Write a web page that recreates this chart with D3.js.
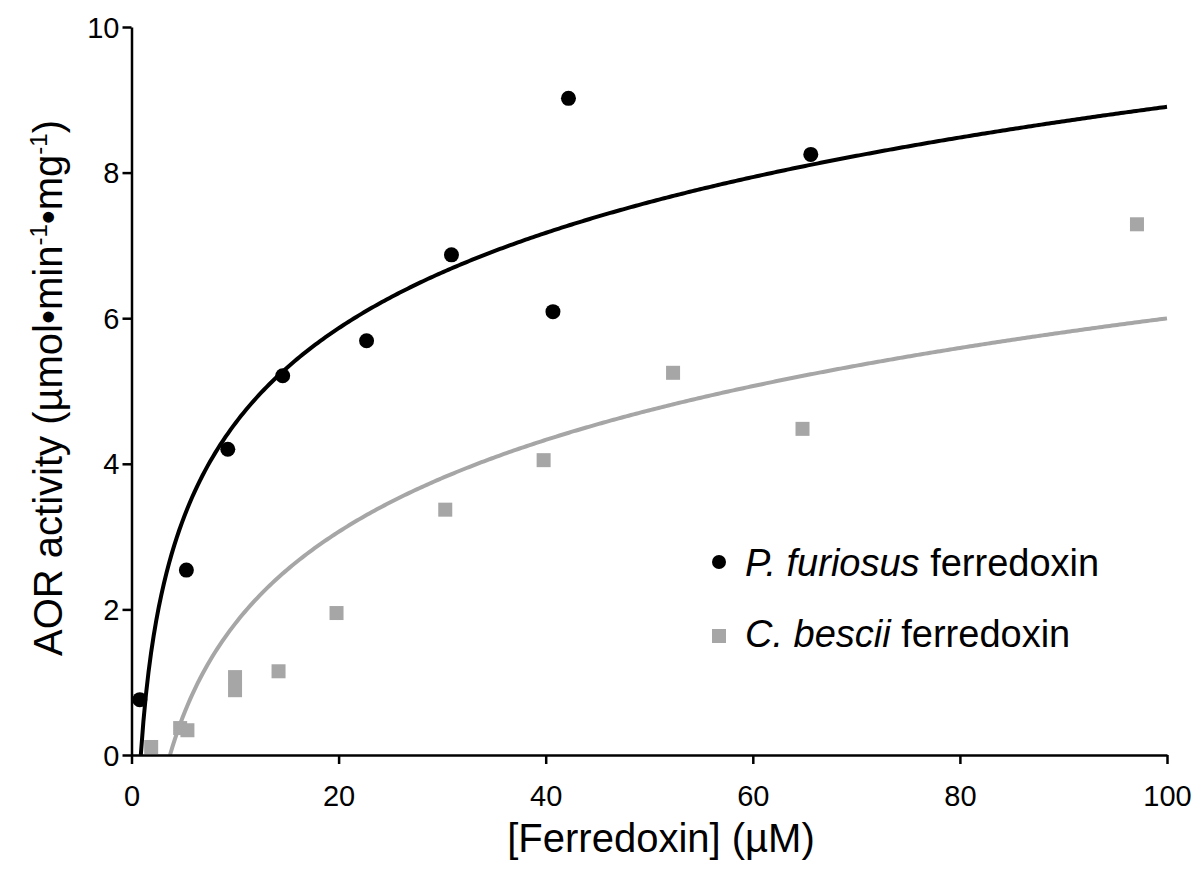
<!DOCTYPE html>
<html><head><meta charset="utf-8">
<script src="https://cdn.jsdelivr.net/npm/d3@7"></script>
<style>body{margin:0;background:#fff}svg{display:block}text{font-family:"Liberation Sans",Arial,sans-serif;fill:#000}</style>
</head><body><svg id="c" width="1201" height="880"></svg>
<script>
const xTicks=[0,20,40,60,80,100];
const yTicks=[0,2,4,6,8,10];
const pfX=[0.8,5.3,9.3,14.6,22.7,30.9,40.7,42.2,65.6];
const pfY=[0.76,2.54,4.2,5.21,5.69,6.87,6.09,9.02,8.25];
const cbX=[1.9,4.7,5.4,10.0,10.0,14.2,19.8,30.3,39.8,52.3,64.8,97.1];
const cbY=[0.11,0.37,0.34,1.07,0.89,1.15,1.95,3.37,4.05,5.25,4.48,7.29];
// logarithmic trendlines y = a*ln(x) + b
const pfFit=[1.89,0.20];
const cbFit=[1.822,-2.393];
const seriesNames=["P. furiosus","C. bescii"];

const svg=d3.select("#c");
const x=d3.scaleLinear().domain([0,100]).range([131.5,1167]);
const y=d3.scaleLinear().domain([0,10]).range([755,27]);
const black="#000", gray="#a6a6a6";

function curve(fit){
  const x0=Math.exp(-fit[1]/fit[0]);
  const pts=d3.range(0,401).map(i=>{const xv=x0+(100-x0)*i/400;return [xv,fit[0]*Math.log(xv)+fit[1]];});
  return d3.line().x(d=>x(d[0])).y(d=>y(d[1]))(pts);
}
svg.append("path").attr("d",curve(cbFit)).attr("fill","none").attr("stroke",gray).attr("stroke-width",4);
svg.append("path").attr("d",curve(pfFit)).attr("fill","none").attr("stroke",black).attr("stroke-width",4);

// axes
const xa=svg.append("g").attr("transform","translate(0,755)").call(d3.axisBottom(x).tickValues(xTicks).tickSize(9).tickSizeOuter(0));
const ya=svg.append("g").attr("transform","translate(131.5,0)").call(d3.axisLeft(y).tickValues(yTicks).tickSize(9).tickSizeOuter(0));
[xa,ya].forEach(g=>{g.select(".domain").attr("stroke","#000").attr("stroke-width",2.5);
  g.selectAll(".tick line").attr("stroke","#000").attr("stroke-width",2.5);
  g.selectAll(".tick text").attr("font-size",29).attr("font-family",null);});
xa.selectAll(".tick text").attr("dy",null).attr("y",51);
ya.selectAll(".tick text").attr("x",-12).attr("dy","0.35em");

// points
const cb=cbX.map((v,i)=>[v,cbY[i]]);
const pf=pfX.map((v,i)=>[v,pfY[i]]);
svg.selectAll(".sq").data(cb).enter().append("rect").attr("x",d=>x(d[0])-7).attr("y",d=>y(d[1])-7).attr("width",14).attr("height",14).attr("fill",gray);
svg.selectAll(".ci").data(pf).enter().append("circle").attr("cx",d=>x(d[0])).attr("cy",d=>y(d[1])).attr("r",7.5).attr("fill",black);

// titles
svg.append("text").attr("x",661).attr("y",852).attr("text-anchor","middle").attr("font-size",40).text("[Ferredoxin] (µM)");
const yt=svg.append("text").attr("transform","translate(62,388) rotate(-90)").attr("text-anchor","middle").attr("font-size",40);
yt.append("tspan").text("AOR activity (µmol•min");
yt.append("tspan").attr("font-size",24).attr("dy",-15).text("-1");
yt.append("tspan").attr("dy",15).text("•mg");
yt.append("tspan").attr("font-size",24).attr("dy",-15).text("-1");
yt.append("tspan").attr("dy",15).text(")");

// legend
const lg=svg.append("g");
lg.append("circle").attr("cx",719).attr("cy",562).attr("r",7).attr("fill",black);
lg.append("rect").attr("x",712).attr("y",629).attr("width",14).attr("height",14).attr("fill",gray);
[[576,seriesNames[0]],[647,seriesNames[1]]].forEach(([by,nm])=>{
  const t=lg.append("text").attr("x",745).attr("y",by).attr("font-size",38);
  t.append("tspan").attr("font-style","italic").text(nm);
  t.append("tspan").text(" ferredoxin");
});
</script></body></html>
